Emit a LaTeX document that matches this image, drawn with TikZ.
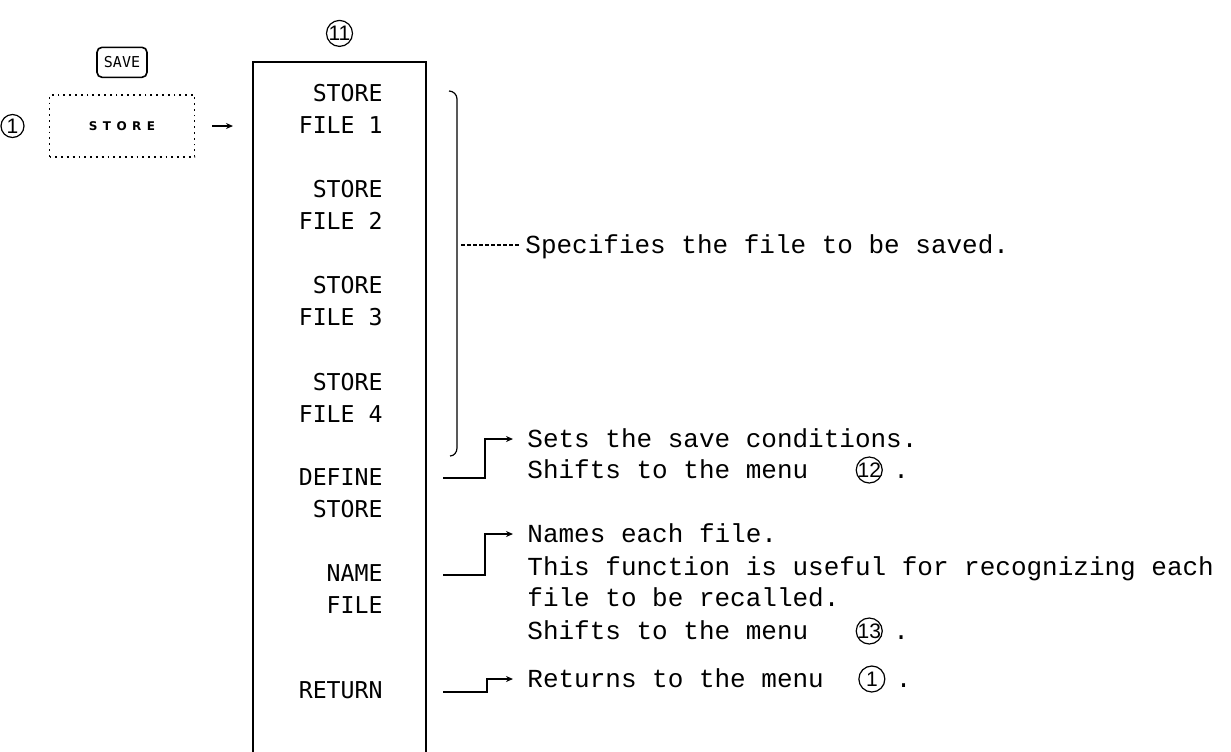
\documentclass[tikz,border=0pt]{standalone}
\usepackage{fontspec}
\usetikzlibrary{positioning,arrows.meta}
\newfontfamily\descfont{Liberation Mono}
\newfontfamily\menufont{DejaVu Sans Mono}
\newfontfamily\keyfont[LetterSpace=45]{DejaVu Sans}
\newfontfamily\numfont{Liberation Sans}

\begin{document}
\begin{tikzpicture}[x=0.5pt,y=-0.5pt,
    desc/.style={inner sep=0pt,anchor=west,text height=8pt,text depth=0pt,font=\descfont\fontsize{13}{16}\selectfont},
    item/.style={inner sep=0pt,anchor=east,align=right,font=\menufont\fontsize{11.6}{16}\selectfont},
    circnum/.style={circle,draw,line width=0.6pt,inner sep=-2pt,minimum size=13pt,font=\numfont\fontsize{10.5}{10.5}\selectfont},
    conn/.style={line width=0.8pt,-{Stealth[length=3.5pt,width=3pt]},shorten >=7pt},
    arr/.style={line width=0.8pt,-{Stealth[length=3.5pt,width=3pt]}}]
    \useasboundingbox (0,0) rectangle (1231,751);
    \fill[white] (0,0) rectangle (1231,751);
    % key and soft key
    \node[draw,dotted,line width=0.9pt,minimum width=72.5pt,minimum height=31pt,font=\keyfont\bfseries\fontsize{6}{6}\selectfont] (store) at (122,126) {STORE};
    \node[draw,rounded corners=2.5pt,line width=0.8pt,minimum width=25pt,minimum height=15pt,inner sep=1pt,font=\menufont\fontsize{7.5}{7.5}\selectfont,above=8pt of store] (save) {SAVE};
    \node[circnum,minimum size=11.5pt,left=12pt of store] (c1) {1};
    % menu 11
    \node[draw,line width=1pt,minimum width=86.5pt,minimum height=360pt,anchor=north west] (menu) at (252,61) {};
    \node[circnum,above=7pt of menu.north] (c11) {11};
    \draw[arr,shorten <=8.5pt,shorten >=9.5pt] (store.east) -- (store.east -| menu.west);
    \node[item] (sf1) at (383,109) {STORE\\FILE 1};
    \node[item] (sf2) at (383,205) {STORE\\FILE 2};
    \node[item] (sf3) at (383,301) {STORE\\FILE 3};
    \node[item] (sf4) at (383,398) {STORE\\FILE 4};
    \node[item] (ds) at (383,493) {DEFINE\\STORE};
    \node[item] (nf) at (383,589) {NAME\\FILE};
    \node[item] (rt) at (383,690) {RETURN};
    % store file 1-4
    \draw[line width=0.6pt] (449,91) to[out=0,in=90] (457,99) -- (457,448) to[out=-90,in=0] (450,456);
    \coordinate (bmid) at (461,245);
    \node[desc] (spec) at (525,245) {Specifies the file to be saved.};
    \draw[line width=0.6pt,dash pattern=on 2pt off 1pt,shorten >=3pt] (bmid) -- (spec.west);
    % define store
    \node[desc] (def1) at (527,439) {Sets the save conditions.};
    \node[desc] (def2) at (527,470) {Shifts to the menu};
    \node[circnum,right=23.5pt of def2] (c12) {12};
    \node[desc,right=5pt of c12] (dot12) {.};
    \coordinate (d0) at (443,478);
    \draw[conn] (d0) -- ++(42,0) |- (def1.west);
    % name file
    \node[desc] (nm1) at (527,534) {Names each file.};
    \node[desc] (nm2) at (527,567) {This function is useful for recognizing each};
    \node[desc] (nm3) at (527,598) {file to be recalled.};
    \node[desc] (nm4) at (527,631) {Shifts to the menu};
    \node[circnum,right=23.5pt of nm4] (c13) {13};
    \node[desc,right=5pt of c13] (dot13) {.};
    \coordinate (n0) at (443,575);
    \draw[conn] (n0) -- ++(42,0) |- (nm1.west);
    % return
    \node[desc] (rt1) at (527,679) {Returns to the menu};
    \node[circnum,right=17pt of rt1] (c1b) {1};
    \node[desc,right=5pt of c1b] (dot1) {.};
    \coordinate (r0) at (443,692);
    \draw[conn] (r0) -- ++(44,0) |- (rt1.west);
\end{tikzpicture}
\end{document}
